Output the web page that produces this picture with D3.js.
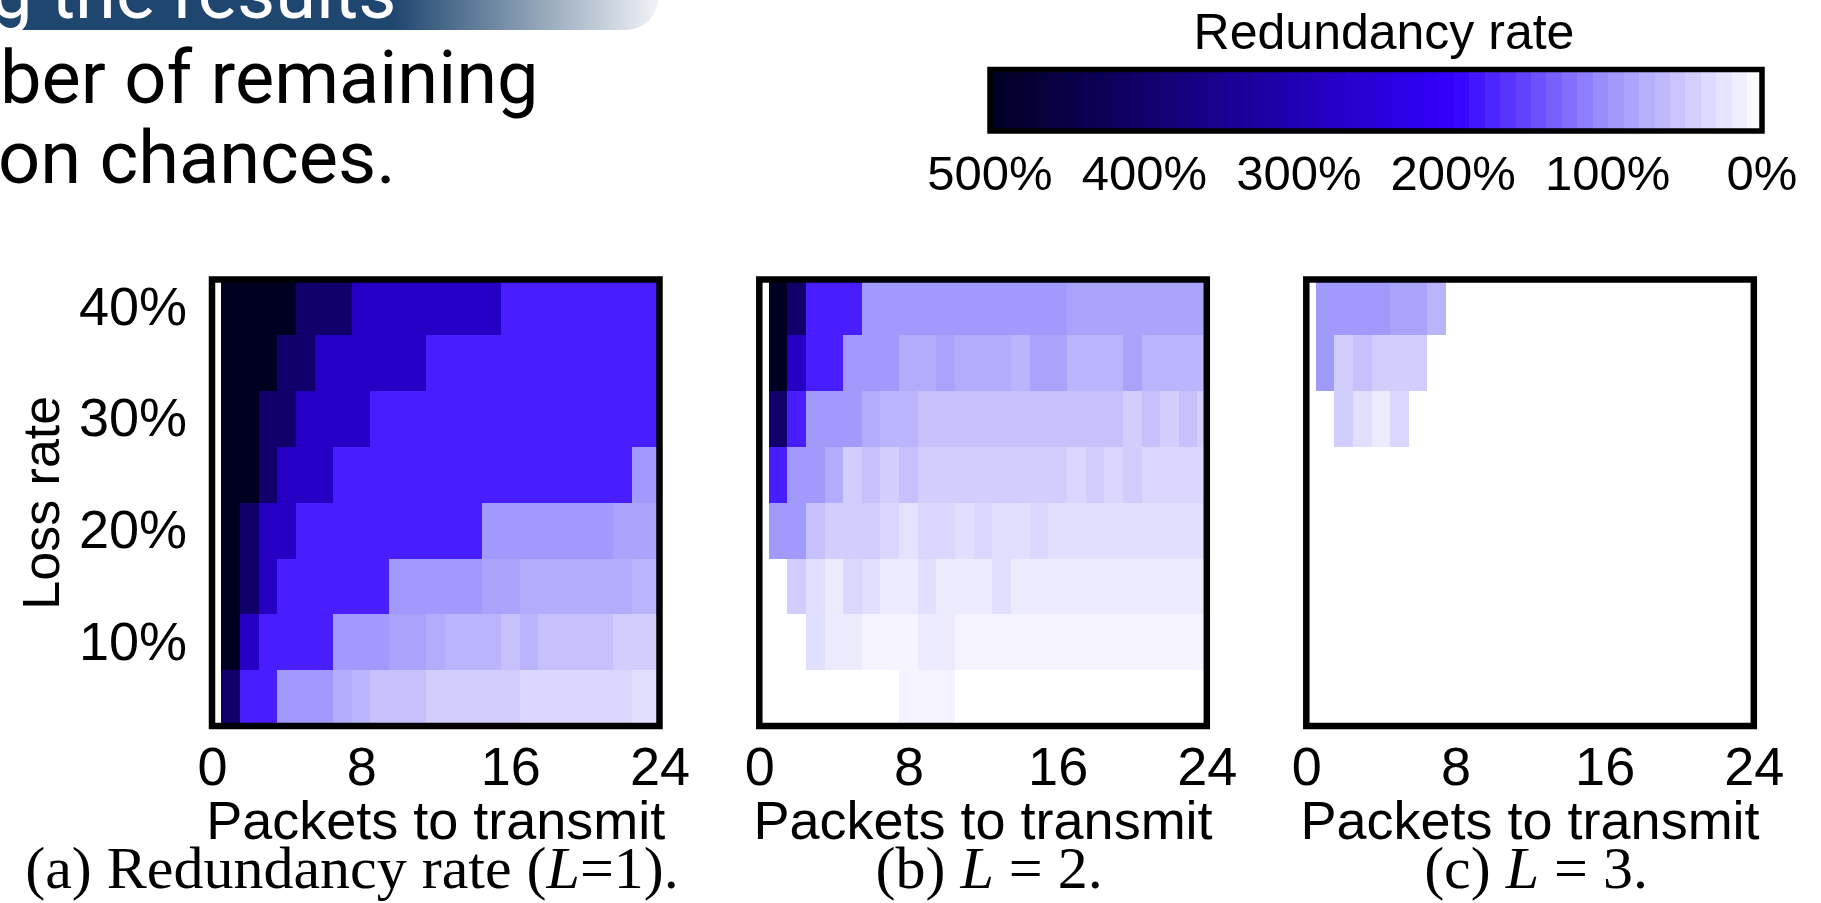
<!DOCTYPE html>
<html>
<head>
<meta charset="utf-8">
<script src="https://cdn.jsdelivr.net/npm/d3@7"></script>
<style>
  body { margin: 0; background: #fff; overflow: hidden; }
</style>
</head>
<body>
<svg id="chart"></svg>
<script>
// rows are loss rates (top to bottom), columns are packets to transmit 1..24
const lossRates = [40, 35, 30, 25, 20, 15, 10, 5];
const packets = [1, 2, 3, 4, 5, 6, 7, 8, 9, 10, 11, 12, 13, 14, 15, 16, 17, 18, 19, 20, 21, 22, 23, 24];
const xTicks = [0, 8, 16, 24];
const yTicks = [40, 30, 20, 10];
const cbarTicks = [500, 400, 300, 200, 100, 0];

// redundancy rate in %
const redundancyL1 = [
  [500,500,500,500,400,400,400,280,280,280,280,280,280,280,280,180,180,180,180,180,180,180,180,180],
  [500,500,500,400,400,280,280,280,280,280,280,180,180,180,180,180,180,180,180,180,180,180,180,180],
  [500,500,400,400,280,280,280,280,180,180,180,180,180,180,180,180,180,180,180,180,180,180,180,180],
  [500,500,400,280,280,280,180,180,180,180,180,180,180,180,180,180,180,180,180,180,180,180,95,95],
  [500,400,280,280,180,180,180,180,180,180,180,180,180,180,95,95,95,95,95,95,95,86,86,86],
  [500,400,280,180,180,180,180,180,180,95,95,95,95,95,86,86,78,78,78,78,78,78,70,70],
  [500,280,180,180,180,180,95,95,95,86,86,78,70,70,70,58,70,58,58,58,58,46,46,46],
  [400,180,180,95,95,95,78,70,58,58,58,46,46,46,46,46,37,37,37,37,37,37,30,30]
];
const redundancyL2 = [
  [500,400,180,180,180,95,95,95,95,95,95,95,95,95,95,95,86,86,86,86,86,86,86,86],
  [500,280,180,180,95,95,95,78,78,86,78,78,78,70,86,86,70,70,70,86,70,70,70,70],
  [400,180,95,95,95,78,70,70,58,58,58,58,58,58,58,58,58,58,58,46,58,46,58,46],
  [180,95,95,78,46,58,46,58,46,46,46,46,46,46,46,46,37,46,37,46,37,37,37,37],
  [95,95,58,46,46,46,37,27,37,37,30,37,30,30,37,30,30,30,30,30,30,30,30,30],
  [0,46,30,19,37,30,19,19,30,19,19,19,30,19,19,19,19,19,19,19,19,19,19,19],
  [0,0,30,19,19,11,11,11,19,19,11,11,11,11,11,11,11,11,11,11,11,11,11,11],
  [0,0,0,0,0,0,0,11,11,11,0,0,0,0,0,0,0,0,0,0,0,0,0,0]
];
const redundancyL3 = [
  [95,95,95,95,86,86,70,0,0,0,0,0,0,0,0,0,0,0,0,0,0,0,0,0],
  [95,46,58,46,46,46,0,0,0,0,0,0,0,0,0,0,0,0,0,0,0,0,0,0],
  [0,46,30,19,37,0,0,0,0,0,0,0,0,0,0,0,0,0,0,0,0,0,0,0],
  [0,0,0,0,0,0,0,0,0,0,0,0,0,0,0,0,0,0,0,0,0,0,0,0],
  [0,0,0,0,0,0,0,0,0,0,0,0,0,0,0,0,0,0,0,0,0,0,0,0],
  [0,0,0,0,0,0,0,0,0,0,0,0,0,0,0,0,0,0,0,0,0,0,0,0],
  [0,0,0,0,0,0,0,0,0,0,0,0,0,0,0,0,0,0,0,0,0,0,0,0],
  [0,0,0,0,0,0,0,0,0,0,0,0,0,0,0,0,0,0,0,0,0,0,0,0]
];
const captions = [
  ["(a) Redundancy rate (", "L", "=1)."],
  ["(b) ", "L", " = 2."],
  ["(c) ", "L", " = 3."]
];

const W = 1821, H = 903;
const sans = "'Liberation Sans', Arial, sans-serif";
const serif = "'Liberation Serif', 'Times New Roman', serif";
const slide = "Roboto, 'Noto Sans', sans-serif";

const svg = d3.select("#chart").attr("width", W).attr("height", H);
const defs = svg.append("defs");

const color = d3.scaleLinear()
  .domain([0, 100, 200, 500])
  .range(["#ffffff", "#9c94fb", "#3300ff", "#000022"])
  .clamp(true);

// slide leftovers in the top-left corner
const band = defs.append("linearGradient").attr("id", "band")
  .attr("x1", "0%").attr("x2", "100%").attr("y1", "0%").attr("y2", "0%");
band.append("stop").attr("offset", "0%").attr("stop-color", "#1f466f");
band.append("stop").attr("offset", "62%").attr("stop-color", "#1f466f");
band.append("stop").attr("offset", "100%").attr("stop-color", "#f1f3f6");

svg.append("rect")
  .attr("x", -40).attr("y", -40)
  .attr("width", 698).attr("height", 70)
  .attr("rx", 32)
  .attr("fill", "url(#band)");

svg.append("text")
  .attr("x", -9).attr("y", 18)
  .style("font-family", slide).style("font-size", "74px")
  .attr("fill", "#fff")
  .text("g the results");

svg.append("text")
  .attr("x", 0).attr("y", 103)
  .style("font-family", slide).style("font-size", "74px")
  .attr("fill", "#000")
  .text("ber of remaining");

svg.append("text")
  .attr("x", -2).attr("y", 183)
  .style("font-family", slide).style("font-size", "74px")
  .attr("fill", "#000")
  .text("on chances.");

// colour bar
const cbarLeft = 990, cbarRight = 1762, cbarTop = 69.5, cbarBottom = 131;
const cx = d3.scaleLinear().domain([500, 0]).range([cbarLeft, cbarRight]);
const steps = d3.range(0, 500, 10);

svg.append("g")
  .selectAll("rect")
  .data(steps)
  .join("rect")
  .attr("x", d => cx(d + 10))
  .attr("y", cbarTop)
  .attr("width", d => cx(d) - cx(d + 10) + 0.6)
  .attr("height", cbarBottom - cbarTop)
  .attr("fill", d => color(d + 5))
  .attr("shape-rendering", "crispEdges");

svg.append("rect")
  .attr("x", cbarLeft).attr("y", cbarTop)
  .attr("width", cbarRight - cbarLeft).attr("height", cbarBottom - cbarTop)
  .attr("fill", "none").attr("stroke", "#000").attr("stroke-width", 5.5);

svg.append("text")
  .attr("x", 1384).attr("y", 49)
  .attr("text-anchor", "middle")
  .style("font-family", sans).style("font-size", "50px")
  .text("Redundancy rate");

svg.append("g")
  .selectAll("text")
  .data(cbarTicks)
  .join("text")
  .attr("x", d => cx(d))
  .attr("y", 190)
  .attr("text-anchor", "middle")
  .style("font-family", sans).style("font-size", "49px")
  .text(d => d + "%");

// heat map panels
const panelData = [redundancyL1, redundancyL2, redundancyL3];
const panelLefts = [212, 759.3, 1306.3];
const plotWidth = 447.5, plotTop = 279.5, plotBottom = 726;

panelData.forEach((values, p) => {
  const left = panelLefts[p];
  const x = d3.scaleLinear().domain([0, 24]).range([left, left + plotWidth]);
  const y = d3.scaleBand().domain(lossRates).range([plotTop, plotBottom]);

  const cells = [];
  values.forEach((row, r) => row.forEach((v, j) => {
    cells.push({ loss: lossRates[r], packet: packets[j], value: v });
  }));

  const g = svg.append("g");

  g.append("g")
    .selectAll("rect")
    .data(cells)
    .join("rect")
    .attr("x", d => x(d.packet - 0.5))
    .attr("y", d => y(d.loss))
    .attr("width", d => x(Math.min(d.packet + 0.5, 24)) - x(d.packet - 0.5) + 0.5)
    .attr("height", y.bandwidth() + 0.5)
    .attr("fill", d => color(d.value))
    .attr("shape-rendering", "crispEdges");

  g.append("rect")
    .attr("x", x(0)).attr("y", plotTop)
    .attr("width", plotWidth).attr("height", plotBottom - plotTop)
    .attr("fill", "none").attr("stroke", "#000").attr("stroke-width", 6.5);

  const xAxis = g.append("g")
    .attr("transform", `translate(0,${plotBottom})`)
    .call(d3.axisBottom(x).tickValues(xTicks).tickSize(0).tickPadding(21));
  xAxis.select(".domain").remove();
  xAxis.selectAll("text")
    .style("font-family", sans).style("font-size", "54px").attr("fill", "#000");

  g.append("text")
    .attr("x", x(12)).attr("y", 839)
    .attr("text-anchor", "middle")
    .style("font-family", sans).style("font-size", "54px")
    .text("Packets to transmit");

  if (p === 0) {
    const yAxis = g.append("g")
      .attr("transform", `translate(${left},0)`)
      .call(d3.axisLeft(y).tickValues(yTicks).tickFormat(d => d + "%").tickSize(0).tickPadding(25));
    yAxis.select(".domain").remove();
    yAxis.selectAll("text")
      .style("font-family", sans).style("font-size", "54px").attr("fill", "#000");

    g.append("text")
      .attr("transform", `translate(59,${(plotTop + plotBottom) / 2})rotate(-90)`)
      .attr("text-anchor", "middle")
      .style("font-family", sans).style("font-size", "52px")
      .text("Loss rate");
  }

  const cap = captions[p];
  const capX = p === 0 ? 352 : x(12) + 6;
  const t = g.append("text")
    .attr("x", capX).attr("y", 888)
    .attr("text-anchor", "middle")
    .style("font-family", serif).style("font-size", "60px");
  t.append("tspan").text(cap[0]);
  t.append("tspan").style("font-style", "italic").text(cap[1]);
  t.append("tspan").text(cap[2]);
});
</script>
</body>
</html>
